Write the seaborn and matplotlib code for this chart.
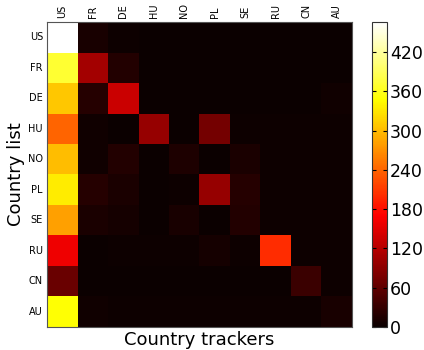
import numpy as np
import pandas as pd
import matplotlib
matplotlib.use("Agg")
import matplotlib.pyplot as plt
import seaborn as sns

countries = ["US", "FR", "DE", "HU", "NO", "PL", "SE", "RU", "CN", "AU"]

# rows: country list, columns: country trackers
row_US = [466, 10, 3, 1, 1, 1, 1, 1, 1, 1]
row_FR = [370, 107, 18, 1, 1, 1, 1, 1, 1, 1]
row_DE = [308, 20, 133, 1, 1, 1, 1, 1, 1, 4]
row_HU = [240, 5, 1, 97, 0, 73, 3, 2, 2, 2]
row_NO = [302, 5, 17, 1, 14, 0, 12, 2, 2, 2]
row_PL = [334, 20, 12, 1, 3, 97, 20, 2, 2, 2]
row_SE = [282, 11, 9, 1, 10, 0, 17, 2, 2, 2]
row_RU = [160, 1, 2, 2, 2, 9, 2, 201, 2, 2]
row_CN = [67, 1, 1, 1, 1, 1, 1, 1, 33, 2]
row_AU = [348, 5, 3, 2, 2, 2, 2, 2, 2, 10]

data = pd.DataFrame(
    [row_US, row_FR, row_DE, row_HU, row_NO, row_PL, row_SE, row_RU, row_CN, row_AU],
    index=countries, columns=countries)

cbar_ticks = [0, 60, 120, 180, 240, 300, 360, 420]

fig = plt.figure(figsize=(4.24, 3.5), dpi=100)
ax = fig.add_axes([0.111, 0.066, 0.719, 0.871])
cax = fig.add_axes([0.877, 0.066, 0.036, 0.871])

sns.heatmap(data, ax=ax, cbar_ax=cax, cmap="hot", vmin=0, vmax=466,
            cbar_kws={"ticks": cbar_ticks})

ax.xaxis.tick_top()
ax.set_xticklabels(countries, rotation=90, fontsize=7)
ax.set_yticklabels(countries, rotation=0, fontsize=7)
ax.tick_params(length=0, pad=3)
ax.set_xlabel("Country trackers", fontsize=13, labelpad=3)
ax.set_ylabel("Country list", fontsize=13, labelpad=2)
ax.xaxis.set_label_position("bottom")
for s in ax.spines.values():
    s.set_visible(True)
    s.set_color("#555555")
    s.set_linewidth(0.8)

cbar = ax.collections[0].colorbar
cbar.outline.set_visible(True)
cbar.outline.set_edgecolor("#333333")
cbar.outline.set_linewidth(0.8)
cax.tick_params(labelsize=12.5, direction="in", length=3, left=True, right=True, pad=2)

fig.savefig("out.png", dpi=100)
